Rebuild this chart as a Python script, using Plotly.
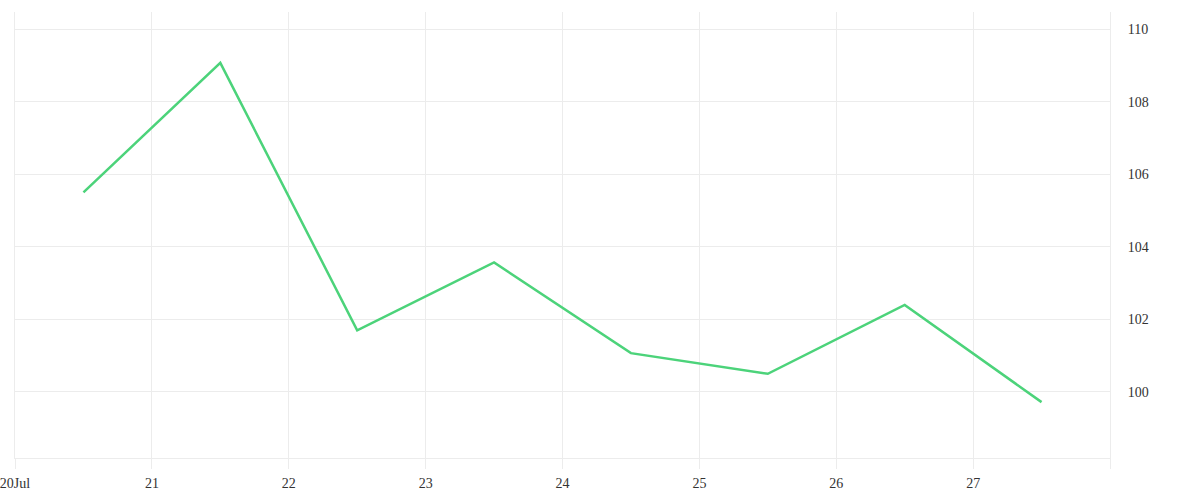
import plotly.graph_objects as go

dates = ["2023-07-20 12:00", "2023-07-21 12:00", "2023-07-22 12:00", "2023-07-23 12:00",
         "2023-07-24 12:00", "2023-07-25 12:00", "2023-07-26 12:00", "2023-07-27 12:00"]
values = [105.5, 109.07, 101.7, 103.57, 101.07, 100.5, 102.4, 99.72]

tick_dates = ["2023-07-20", "2023-07-21", "2023-07-22", "2023-07-23", "2023-07-24",
              "2023-07-25", "2023-07-26", "2023-07-27", "2023-07-28"]
tick_text = ["20Jul", "21", "22", "23", "24", "25", "26", "27", ""]
y_ticks = [100, 102, 104, 106, 108, 110]

grid = "#ececec"

fig = go.Figure(go.Scatter(x=dates, y=values, mode="lines",
                           line=dict(color="#4cd37a", width=2.5)))

fig.update_layout(
    width=1200, height=500,
    margin=dict(l=15, r=90, t=12, b=42, autoexpand=False),
    paper_bgcolor="white", plot_bgcolor="white",
    showlegend=False,
    font=dict(family="'Liberation Serif', 'Times New Roman', serif", size=14, color="#333"),
    xaxis=dict(type="date", range=["2023-07-20", "2023-07-28"],
               tickvals=tick_dates, ticktext=tick_text,
               showgrid=True, gridcolor=grid, gridwidth=1,
               ticks="outside", ticklen=10, tickcolor=grid, tickwidth=1,
               showline=True, linecolor=grid, linewidth=1,
               zeroline=False, ticklabelstandoff=2, automargin=False,
               ticklabeloverflow="allow"),
    yaxis=dict(side="right", range=[98.18, 110.47], tickvals=y_ticks,
               showgrid=True, gridcolor=grid, gridwidth=1,
               ticks="", showline=True, mirror=True, linecolor=grid, linewidth=1,
               zeroline=False, ticklabelstandoff=14, automargin=False),
)

fig.write_html("out.html")
